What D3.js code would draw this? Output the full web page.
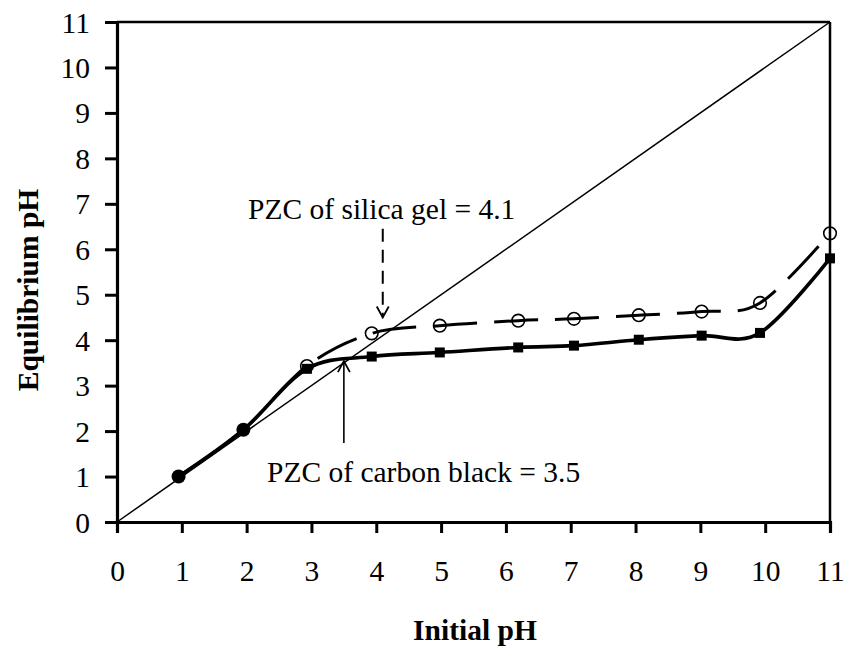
<!DOCTYPE html>
<html>
<head>
<meta charset="utf-8">
<script src="https://cdn.jsdelivr.net/npm/d3@7"></script>
<style>
  html, body { margin: 0; padding: 0; background: #fff; }
  svg { display: block; }
  text { font-family: "Liberation Serif", "Times New Roman", serif; fill: #000; }
</style>
</head>
<body>
<svg id="chart" width="849" height="650"></svg>
<script>
// Initial pH of each suspension and the equilibrium pH reached
const initialPH     = [0.95, 1.95, 2.93, 3.93, 4.98, 6.19, 7.05, 8.05, 9.02, 9.92, 11.0];
const carbonBlackEq = [1.00, 2.03, 3.37, 3.64, 3.73, 3.84, 3.88, 4.01, 4.10, 4.16, 5.80];
const silicaGelEq   = [1.00, 2.03, 3.43, 4.15, 4.32, 4.43, 4.47, 4.55, 4.63, 4.82, 6.35];

// Axis ticks
const xTicks = [0, 1, 2, 3, 4, 5, 6, 7, 8, 9, 10, 11];
const yTicks = [0, 1, 2, 3, 4, 5, 6, 7, 8, 9, 10, 11];

// Point-of-zero-charge annotations
const pzcLabels = ["PZC of silica gel = 4.1", "PZC of carbon black = 3.5"];
const pzcValues = [4.1, 3.5];

const svg = d3.select("#chart");
const x = d3.scaleLinear().domain([0, 11]).range([117, 830]);
const y = d3.scaleLinear().domain([0, 11]).range([522, 22]);

// Frame: top and right borders
svg.append("line").attr("x1", x(0)).attr("x2", x(11)).attr("y1", y(11)).attr("y2", y(11))
  .attr("stroke", "#000").attr("stroke-width", 2.5);
svg.append("line").attr("x1", x(11)).attr("x2", x(11)).attr("y1", y(11)).attr("y2", y(0))
  .attr("stroke", "#000").attr("stroke-width", 2.5);

// Axes
const xAxis = svg.append("g").attr("transform", `translate(0,${y(0)})`)
  .call(d3.axisBottom(x).tickValues(xTicks).tickSize(11).tickPadding(28).tickFormat(d3.format("d")));
const yAxis = svg.append("g").attr("transform", `translate(${x(0)},0)`)
  .call(d3.axisLeft(y).tickValues(yTicks).tickSize(12).tickPadding(15).tickFormat(d3.format("d")));
[xAxis, yAxis].forEach(g => {
  g.attr("font-family", "Liberation Serif, serif");
  g.select(".domain").attr("stroke", "#000").attr("stroke-width", 3.2);
  g.selectAll(".tick line").attr("stroke", "#000").attr("stroke-width", 3);
  g.selectAll(".tick text").attr("font-family", "Liberation Serif, serif")
    .attr("font-size", 29.5).attr("fill", "#000");
});
xAxis.selectAll(".tick text").attr("dy", "0.68em");
yAxis.selectAll(".tick text").attr("dy", "0.34em");

// Axis titles
svg.append("text").attr("x", 475).attr("y", 640).attr("text-anchor", "middle")
  .attr("font-size", 29.5).attr("font-weight", "bold").text("Initial pH");
svg.append("text").attr("transform", "translate(38,290) rotate(-90)").attr("text-anchor", "middle")
  .attr("font-size", 29.5).attr("font-weight", "bold").text("Equilibrium pH");

// Reference line pH_eq = pH_initial
svg.append("line").attr("x1", x(0)).attr("y1", y(0)).attr("x2", x(11)).attr("y2", y(11))
  .attr("stroke", "#000").attr("stroke-width", 1.5);

const curve = d3.curveCardinal.tension(0);
const carbonPts = initialPH.map((v, i) => [v, carbonBlackEq[i]]);
const silicaPts = initialPH.map((v, i) => [v, silicaGelEq[i]]);
const lineGen = d3.line().x(d => x(d[0])).y(d => y(d[1])).curve(curve);

// Silica gel: long-dash smoothed line
svg.append("path").attr("d", lineGen(silicaPts)).attr("fill", "none")
  .attr("stroke", "#000").attr("stroke-width", 3).attr("stroke-dasharray", "44,17");
// Carbon black: solid smoothed line
svg.append("path").attr("d", lineGen(carbonPts)).attr("fill", "none")
  .attr("stroke", "#000").attr("stroke-width", 3.6);

// Markers: where both series coincide at low pH, a single filled dot
svg.selectAll(".dot").data(carbonPts.filter((d, i) => i < 2)).join("circle")
  .attr("cx", d => x(d[0])).attr("cy", d => y(d[1])).attr("r", 7).attr("fill", "#000");
svg.selectAll(".sq").data(carbonPts.filter((d, i) => i >= 2)).join("rect")
  .attr("x", d => x(d[0]) - 5).attr("y", d => y(d[1]) - 5)
  .attr("width", 10).attr("height", 10).attr("fill", "#000");
svg.selectAll(".ring").data(silicaPts.filter((d, i) => i >= 2)).join("circle")
  .attr("cx", d => x(d[0])).attr("cy", d => y(d[1])).attr("r", 6.3)
  .attr("fill", "none").attr("stroke", "#000").attr("stroke-width", 1.6);

// Open chevron arrowhead pointing toward (tx, ty) from direction dir (+1 down, -1 up)
function chevron(tx, ty, dir) {
  const w = 6, h = 11;
  svg.append("path")
    .attr("d", `M${tx - w},${ty - dir * h}L${tx},${ty}L${tx + w},${ty - dir * h}`)
    .attr("fill", "none").attr("stroke", "#000").attr("stroke-width", 1.8);
}

// Silica gel PZC: dashed arrow pointing down
const sx = x(pzcValues[0]);
svg.append("line").attr("x1", sx).attr("x2", sx).attr("y1", y(6.45)).attr("y2", y(4.5))
  .attr("stroke", "#000").attr("stroke-width", 2).attr("stroke-dasharray", "13,8");
chevron(sx, y(4.5), 1);
svg.append("text").attr("x", 248).attr("y", 219).attr("font-size", 29.5).text(pzcLabels[0]);

// Carbon black PZC: solid arrow pointing up
const cx = x(pzcValues[1]);
svg.append("line").attr("x1", cx).attr("x2", cx).attr("y1", y(1.74)).attr("y2", y(3.54))
  .attr("stroke", "#000").attr("stroke-width", 1.6);
chevron(cx, y(3.54), -1);
svg.append("text").attr("x", 267).attr("y", 482).attr("font-size", 29.5).text(pzcLabels[1]);
</script>
</body>
</html>
